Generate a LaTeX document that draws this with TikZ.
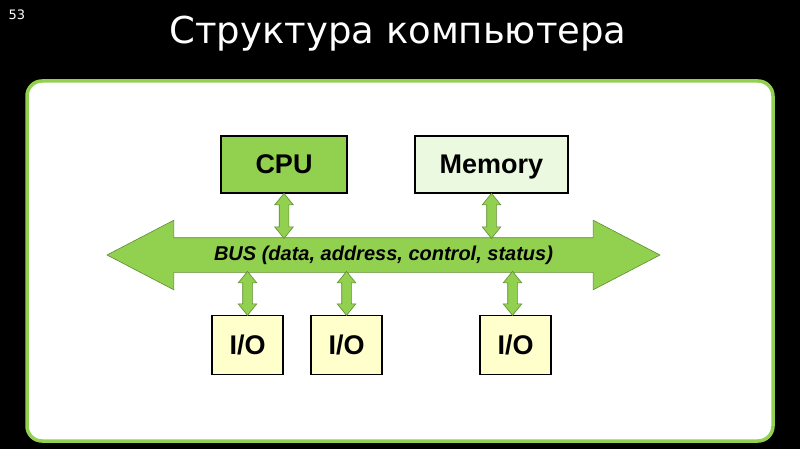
\documentclass[tikz,border=0pt]{standalone}
\usepackage{fontspec}
\setmainfont{Liberation Sans}
\newfontfamily\titlefont{DejaVu Sans}
\usetikzlibrary{shapes.arrows}

\definecolor{busgreen}{HTML}{92D050}
\definecolor{darkgreen}{HTML}{5E8C31}
\definecolor{memfill}{HTML}{EBF9E1}
\definecolor{iofill}{HTML}{FFFFCC}

\tikzset{
	unit/.style={draw=black, line width=1.5pt, font=\fontsize{27}{30}\selectfont\bfseries, inner sep=0pt,
		text depth=0pt},
	iobox/.style={unit, fill=iofill, minimum width=71, minimum height=59},
	link/.style={double arrow, fill=busgreen, draw=darkgreen, line width=0.6pt,
		double arrow head extend=4.5, double arrow tip angle=78, inner xsep=0pt, inner ysep=4.5pt, rotate=90}
}

\begin{document}
\begin{tikzpicture}[x=1pt, y=-1pt]
		\fill[black] (0, 0) rectangle (800, 449);
		\useasboundingbox (0, 0) rectangle (800, 449);
		\node[text=white, font=\titlefont\fontsize{13}{14}\selectfont] (page) at (17, 15) {53};
		\node[text=white, font=\titlefont\fontsize{37}{40}\selectfont] (title) at (398, 34) {Структура компьютера};
		\draw[busgreen, line width=3.5pt, fill=white, rounded corners=15] (27, 81) rectangle (773, 441);

		\node[unit, fill=busgreen, minimum width=126, minimum height=57] (cpu) at (284, 164.5) {CPU};
		\node[unit, fill=memfill, minimum width=153, minimum height=57] (mem) at (491.5, 164.5) {Memory};

		\node[double arrow, fill=busgreen, draw=darkgreen, line width=0.6pt, minimum height=553,
			double arrow head extend=17.5, double arrow tip angle=55, inner xsep=0pt, inner ysep=8pt,
			text height=14pt, text depth=4pt, font=\fontsize{20}{22}\selectfont\bfseries\itshape]
			(bus) at (383.5, 255) {BUS (data, address, control, status)};
		\coordinate (bustop) at (0, 238);
		\coordinate (busbot) at (0, 272);

		\node[iobox] (io1) at (247.5, 345) {I/O};
		\node[iobox] (io2) at (346.5, 345) {I/O};
		\node[iobox] (io3) at (515.5, 345) {I/O};

		\path (cpu.south) -- (cpu.south |- bustop) node[link, midway, minimum height=45] {};
		\path (mem.south) -- (mem.south |- bustop) node[link, midway, minimum height=45] {};
		\path (io1.north) -- (io1.north |- busbot) node[link, midway, minimum height=44] {};
		\path (io2.north) -- (io2.north |- busbot) node[link, midway, minimum height=44] {};
		\path ([xshift=-3]io3.north) -- ([xshift=-3]io3.north |- busbot) node[link, midway, minimum height=44] {};
	\end{tikzpicture}
\end{document}
